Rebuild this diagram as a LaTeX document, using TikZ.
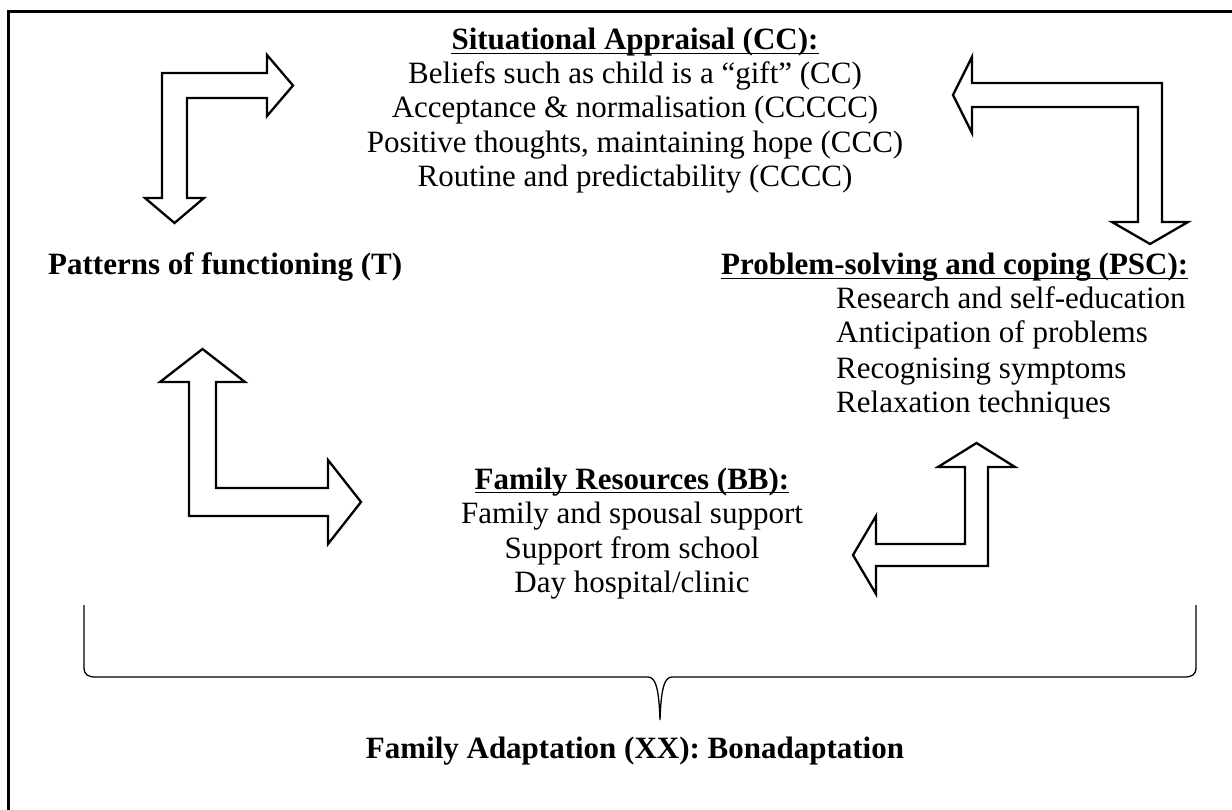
\documentclass[tikz,border=0pt]{standalone}
\usepackage{fontspec}
\setmainfont{Liberation Serif}
\begin{document}
\begin{tikzpicture}[x=1pt,y=-1pt,
  txt/.style={inner sep=0pt, font=\fontsize{31}{34.3}\selectfont},
  hd/.style={inner sep=0pt, font=\fontsize{31}{34.3}\selectfont\bfseries},
  bentarrow/.style={draw=black, line width=2.3pt, line join=miter, miter limit=10, fill=white},
  ulline/.style={line width=1.7pt},
  framestyle/.style={line width=3pt},
  bracestyle/.style={line width=1.3pt}]
\useasboundingbox (0,0) rectangle (1232,810);
% frame (only top and left visible)
\draw[framestyle] (8.3,815) -- (8.3,11.7) -- (1240,11.7);

% top block
\node[hd, anchor=base] (sa) at (635,50) {Situational Appraisal (CC):};
\node[txt, anchor=base] (sa1) at (635,84) {Beliefs such as child is a “gift” (CC)};
\node[txt, anchor=base] (sa2) at (635,118) {Acceptance \& normalisation (CCCCC)};
\node[txt, anchor=base] (sa3) at (635,153) {Positive thoughts, maintaining hope (CCC)};
\node[txt, anchor=base] (sa4) at (635,187) {Routine and predictability (CCCC)};

% left heading
\node[hd, anchor=base west] (pf) at (48,275) {Patterns of functioning (T)};

% right block
\node[hd, anchor=base west] (psc) at (721,275) {Problem-solving and coping (PSC):};
\node[txt, anchor=base west] (psc1) at (836,309) {Research and self-education};
\node[txt, anchor=base west] (psc2) at (836,343) {Anticipation of problems};
\node[txt, anchor=base west] (psc3) at (836,378) {Recognising symptoms};
\node[txt, anchor=base west] (psc4) at (836,412) {Relaxation techniques};

% family resources
\node[hd, anchor=base] (fr) at (632,489) {Family Resources (BB):};
\node[txt, anchor=base] (fr1) at (632,523) {Family and spousal support};
\node[txt, anchor=base] (fr2) at (632,558) {Support from school};
\node[txt, anchor=base] (fr3) at (632,592) {Day hospital/clinic};

% bottom
\node[hd, anchor=base] (fa) at (635,758) {Family Adaptation (XX): Bonadaptation};

% underlines
\foreach \n in {sa,psc,fr}{
  \draw[ulline] ([yshift=-3.5pt]\n.base west) -- ([yshift=-3.5pt]\n.base east);
}

% bent arrows
\draw[bentarrow] (162,73) -- (267,73) -- (267,55) -- (293,85.5) -- (267,116) -- (267,98)
  -- (187,98) -- (187,198) -- (204,198) -- (174.5,223) -- (145,198) -- (162,198) -- cycle;
\draw[bentarrow] (1162,83) -- (972,83) -- (972,57) -- (953,95) -- (972,133) -- (972,107)
  -- (1138,107) -- (1138,222) -- (1112,222) -- (1150,244) -- (1188,222) -- (1162,222) -- cycle;
\draw[bentarrow] (189,516) -- (189,382) -- (160,382) -- (202.5,349) -- (245,382) -- (216,382)
  -- (216,488) -- (328,488) -- (328,460) -- (361,502) -- (328,544) -- (328,516) -- cycle;
\draw[bentarrow] (988,566) -- (988,467) -- (1015,467) -- (976.5,443) -- (938,467) -- (965,467)
  -- (965,544) -- (876,544) -- (876,516) -- (853,555) -- (876,594) -- (876,566) -- cycle;

% brace
\draw[bracestyle] (84,605) -- (84,667) .. controls (84,675) and (88,677) .. (96,677)
  -- (648,677) .. controls (656,677) and (659,690) .. (660,720)
  .. controls (661,690) and (664,677) .. (672,677)
  -- (1184,677) .. controls (1192,677) and (1196,675) .. (1196,667) -- (1196,605);
\end{tikzpicture}
\end{document}
